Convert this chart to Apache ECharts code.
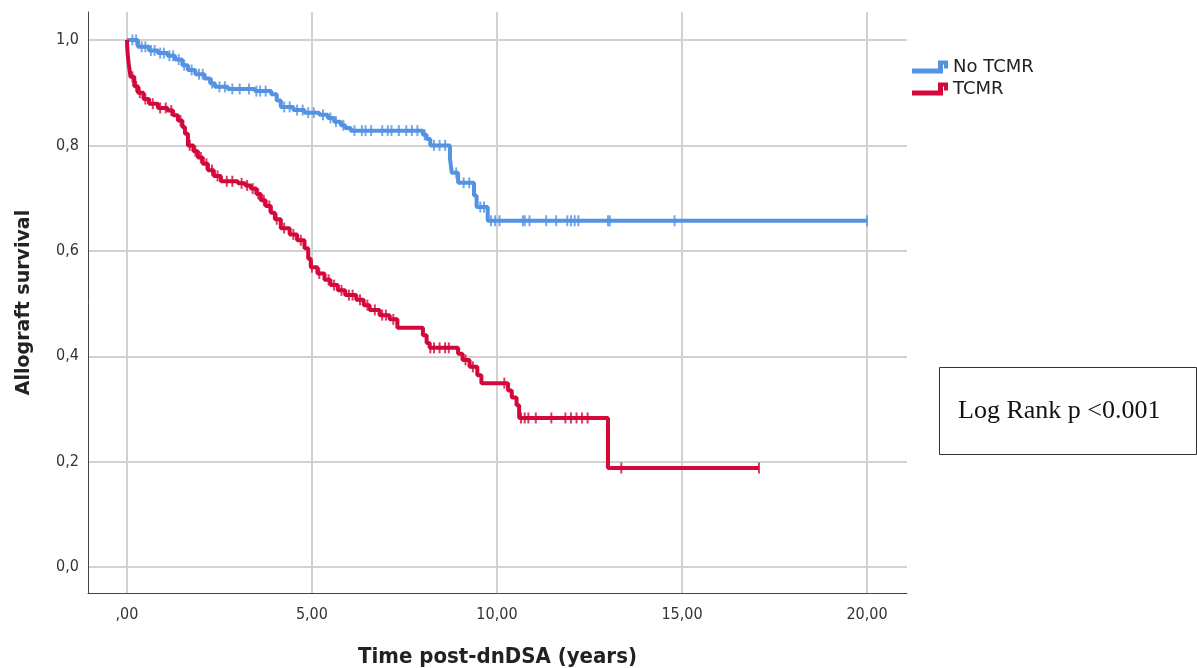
<!DOCTYPE html>
<html><head><meta charset="utf-8">
<script src="https://cdn.jsdelivr.net/npm/echarts@6/dist/echarts.min.js"></script>
<style>html,body{margin:0;padding:0;background:#fff;}#c{width:1197px;height:668px;}</style>
</head><body><div id="c"></div>
<script>
// Kaplan-Meier step points (time in years, survival after the step)
const noTcmrTime = [0,0.3,0.6,0.84,1.1,1.3,1.5,1.65,1.85,2.1,2.25,2.38,2.73,3.46,3.9,4.05,4.16,4.5,4.8,5.2,5.43,5.6,5.78,5.9,6.05,8.0,8.1,8.2,8.73,8.78,8.95,9.38,9.45,9.75,20.0];
const noTcmrSurv = [1.0,0.987,0.98,0.975,0.97,0.963,0.952,0.943,0.935,0.927,0.918,0.911,0.907,0.903,0.897,0.885,0.873,0.867,0.862,0.858,0.852,0.845,0.838,0.833,0.828,0.82,0.812,0.80,0.775,0.748,0.729,0.705,0.683,0.657,0.657];
const tcmrTime = [0,0.02,0.05,0.1,0.2,0.3,0.45,0.6,0.84,1.1,1.25,1.38,1.5,1.57,1.65,1.8,1.92,2.05,2.19,2.35,2.54,3.0,3.2,3.35,3.5,3.62,3.75,3.89,4.0,4.16,4.4,4.6,4.8,4.9,4.97,5.15,5.34,5.5,5.7,5.9,6.2,6.4,6.56,6.83,7.1,7.31,8.0,8.1,8.18,8.95,9.07,9.26,9.47,9.58,10.3,10.4,10.53,10.6,13.0,17.08];
const tcmrSurv = [1.0,0.975,0.955,0.93,0.912,0.9,0.888,0.879,0.871,0.866,0.857,0.847,0.835,0.822,0.8,0.789,0.777,0.765,0.753,0.742,0.732,0.728,0.724,0.718,0.708,0.696,0.685,0.672,0.66,0.643,0.631,0.62,0.605,0.585,0.569,0.557,0.545,0.535,0.525,0.516,0.507,0.497,0.488,0.478,0.47,0.454,0.44,0.425,0.416,0.405,0.393,0.38,0.364,0.349,0.335,0.322,0.307,0.283,0.188,0.188];
// censoring times
const noTcmrCensor = [0.15,0.25,0.4,0.5,0.65,0.75,0.9,1.0,1.15,1.25,1.4,1.55,1.75,1.95,2.05,2.3,2.5,2.65,2.85,3.05,3.3,3.5,3.6,3.75,4.25,4.4,4.6,4.75,4.9,5.05,5.3,5.5,5.65,5.85,6.15,6.35,6.45,6.6,6.9,7.05,7.15,7.35,7.55,7.7,7.85,8.05,8.3,8.45,8.6,8.9,9.1,9.25,9.55,9.65,9.84,9.95,10.07,10.7,10.75,10.88,11.33,11.6,11.9,12.0,12.1,12.2,13.0,13.05,14.8,20.0];
const tcmrCensor = [0.05,0.15,0.25,0.35,0.5,0.7,0.9,1.05,1.2,1.45,1.7,1.85,2.0,2.15,2.3,2.45,2.7,2.85,3.1,3.25,3.4,3.55,3.7,3.85,4.05,4.25,4.5,4.7,5.0,5.2,5.45,5.6,5.8,6.0,6.1,6.3,6.5,6.7,6.9,7.0,7.2,8.2,8.3,8.45,8.6,8.7,9.15,9.35,10.2,10.65,10.75,10.85,11.05,11.47,11.85,12.0,12.15,12.3,12.45,13.36,17.08];
const xTicks = [0,5,10,15,20];
const yTicks = [0,0.2,0.4,0.6,0.8,1.0];
const seriesNames = ['No TCMR','TCMR'];

const BLUE = '#5592E2', RED = '#D3083B';
function pairs(t, s){ return t.map((v,i)=>[v,s[i]]); }
function survAt(t, s, x){ let v = s[0]; for(let i=0;i<t.length;i++){ if(t[i] <= x) v = s[i]; } return v; }
function censorPts(c, t, s){ return c.map(x=>[x, survAt(t,s,x)]); }
const legendIcon = 'path://M0,8 L26,8 L26,0 L36,0 L36,8 L32,8 L32,4 L31,4 L31,13 L0,13 Z';

const chart = echarts.init(document.getElementById('c'));
chart.setOption({
  backgroundColor:'#fff',
  animation:false,
  grid:{left:88,right:290,top:12,bottom:75,containLabel:false,outerBoundsMode:'none'},
  legend:{
    left:912, top:58, padding:0, orient:'vertical', itemGap:4, itemWidth:36, itemHeight:13,
    textStyle:{fontFamily:'DejaVu Sans',fontSize:18,color:'#222',padding:[0,0,0,0]},
    data:[{name:seriesNames[0],icon:legendIcon,itemStyle:{color:BLUE}},{name:seriesNames[1],icon:legendIcon,itemStyle:{color:RED}}]
  },
  xAxis:{
    type:'value', min:-1.05, max:21.08,
    name:'Time post-dnDSA (years)', nameLocation:'middle', nameGap:53,
    nameTextStyle:{fontFamily:'DejaVu Sans Condensed',fontSize:22,fontWeight:'bold',color:'#222'},
    axisLine:{show:true,onZero:false,lineStyle:{color:'#444',width:1}},
    axisTick:{show:false,customValues:xTicks},
    axisLabel:{customValues:xTicks,margin:14,fontFamily:'DejaVu Sans Condensed',fontSize:16,color:'#333',
      formatter:v=>{ const s=v.toFixed(2).replace('.',','); return s.startsWith('0,')?s.slice(1):s; }},
    splitLine:{show:true,lineStyle:{color:'#d2d2d2',width:2}}
  },
  yAxis:{
    type:'value', min:-0.049, max:1.053,
    name:'Allograft survival', nameLocation:'middle', nameGap:54,
    nameTextStyle:{fontFamily:'DejaVu Sans',fontSize:19,fontWeight:'bold',color:'#222'},
    axisLine:{show:true,onZero:false,lineStyle:{color:'#444',width:1}},
    axisTick:{show:false,customValues:yTicks},
    axisLabel:{customValues:yTicks,margin:9,fontFamily:'DejaVu Sans Condensed',fontSize:16,color:'#333',
      formatter:v=>v.toFixed(1).replace('.',',')},
    splitLine:{show:true,lineStyle:{color:'#d2d2d2',width:2}}
  },
  series:[
    {name:seriesNames[0],type:'line',step:'end',showSymbol:false,symbol:'none',data:pairs(noTcmrTime,noTcmrSurv),
      lineStyle:{color:BLUE,width:4},itemStyle:{color:BLUE},z:3},
    {name:seriesNames[1],type:'line',step:'end',showSymbol:false,symbol:'none',data:pairs(tcmrTime,tcmrSurv),
      lineStyle:{color:RED,width:4},itemStyle:{color:RED},z:4},
    {name:seriesNames[0],type:'scatter',symbol:'rect',symbolSize:[2,11],data:censorPts(noTcmrCensor,noTcmrTime,noTcmrSurv),
      itemStyle:{color:BLUE},z:3,silent:true},
    {name:seriesNames[1],type:'scatter',symbol:'rect',symbolSize:[2,11],data:censorPts(tcmrCensor,tcmrTime,tcmrSurv),
      itemStyle:{color:RED},z:4,silent:true}
  ],
  graphic:[
    {type:'rect',shape:{x:939.5,y:367.5,width:257,height:87},style:{fill:'#fff',stroke:'#333',lineWidth:1}},
    {type:'text',x:958,y:411,style:{text:'Log Rank p <0.001',font:'26px "Liberation Serif"',fill:'#111',verticalAlign:'middle'}}
  ]
});
</script></body></html>
